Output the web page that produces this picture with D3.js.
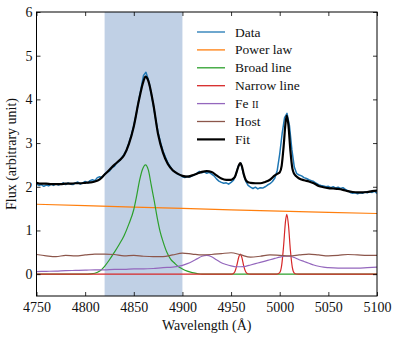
<!DOCTYPE html>
<head>
<meta charset="utf-8">
<script src="https://d3js.org/d3.v7.min.js"></script>
<style>
body { margin:0; background:#fff; }
text { font-family: "Liberation Serif", "Times New Roman", serif; fill:#111; }
</style>
</head>
<body>
<script>

// observed spectrum, regular 2.5 A grid starting at 4750
var dataStart = 4750, dataStep = 2.5;
var dataFlux = [2.06,2.03,2.05,2.01,2.04,2.02,2.06,2.03,2.07,2.04,
  2.06,2.09,2.05,2.09,2.06,2.05,2.09,2.11,2.06,2.09,
  2.12,2.09,2.14,2.16,2.14,2.21,2.23,2.21,2.29,2.33,
  2.36,2.44,2.47,2.55,2.58,2.66,2.74,2.84,3.00,3.18,
  3.40,3.66,3.97,4.25,4.55,4.62,4.45,4.18,3.88,3.55,
  3.24,3.02,2.82,2.68,2.55,2.46,2.37,2.34,2.29,2.27,
  2.23,2.21,2.24,2.22,2.25,2.27,2.31,2.35,2.32,2.34,
  2.31,2.33,2.29,2.25,2.18,2.13,2.10,2.08,2.09,2.06,
  2.10,2.15,2.28,2.48,2.54,2.32,2.13,2.03,1.99,1.96,
  1.99,1.95,1.98,1.97,2.00,2.04,2.07,2.12,2.20,2.38,
  2.75,3.22,3.58,3.68,3.40,2.85,2.45,2.30,2.27,2.25,
  2.21,2.19,2.16,2.14,2.12,2.08,2.05,2.03,2.02,2.00,
  2.01,1.98,2.00,1.97,1.99,1.96,1.98,1.94,1.91,1.87,
  1.85,1.86,1.84,1.86,1.85,1.88,1.86,1.89,1.87,1.90,1.85];

var powerWave = [4750,4800,4850,4900,4950,5000,5050,5100];
var powerFlux = [1.60,1.567,1.535,1.504,1.473,1.444,1.415,1.388];

var broadWave = [4750,4800,4805,4810,4815,4820,4825,4830,4835,4840,4845,4850,4853,4856,4859,4862,
  4865,4868,4871,4874,4877,4880,4884,4888,4892,4896,4900,4905,4910,4915,4920,5100];
var broadFlux = [0,0,0.005,0.02,0.07,0.18,0.33,0.50,0.68,0.88,1.15,1.48,1.80,2.15,2.40,2.50,
  2.38,2.03,1.68,1.30,0.98,0.75,0.50,0.34,0.25,0.17,0.12,0.07,0.035,0.015,0,0];

var narrowWave = [4750,4950,4952,4954,4956,4958,4959.5,4961,4963,4965,4967,4970,
  4997,5000,5002,5004,5006,5007.3,5009,5011,5013,5015,5017,5020,5100];
var narrowFlux = [0,0,0.011,0.062,0.21,0.40,0.46,0.39,0.19,0.053,0.009,0,
  0,0.035,0.20,0.65,1.22,1.37,1.12,0.54,0.15,0.023,0.003,0,0];

var feWave = [4750,4760,4770,4780,4790,4800,4810,4820,4830,4840,4850,4860,4870,4880,4890,4900,
  4905,4910,4915,4920,4925,4930,4935,4940,4945,4950,4955,4960,4965,4970,4975,4980,4985,4990,
  4995,5000,5005,5010,5015,5020,5025,5030,5035,5040,5045,5050,5060,5070,5080,5090,5100];
var feFlux = [0.06,0.065,0.07,0.08,0.085,0.09,0.10,0.10,0.11,0.11,0.12,0.12,0.13,0.15,0.16,0.20,
  0.24,0.29,0.35,0.41,0.43,0.40,0.33,0.26,0.22,0.19,0.17,0.17,0.18,0.21,0.24,0.27,0.30,0.33,
  0.36,0.39,0.41,0.41,0.38,0.33,0.29,0.25,0.21,0.18,0.16,0.15,0.14,0.14,0.14,0.15,0.16];

var hostWave = [4750,4760,4770,4780,4790,4800,4810,4820,4830,4840,4850,4860,4870,4880,4890,4900,
  4910,4920,4930,4940,4950,4960,4970,4980,4990,5000,5010,5020,5030,5040,5050,5060,5070,5080,5090,5100];
var hostFlux = [0.45,0.42,0.40,0.43,0.42,0.44,0.46,0.46,0.45,0.42,0.43,0.41,0.40,0.40,0.44,0.48,
  0.46,0.44,0.45,0.47,0.49,0.44,0.39,0.41,0.44,0.43,0.42,0.44,0.46,0.44,0.42,0.43,0.45,0.44,0.43,0.43];

var fitWave = [4750,4755,4760,4765,4770,4775,4780,4785,4790,4795,4800,4805,4810,4815,4820,4825,
  4830,4835,4840,4845,4850,4855,4860,4862,4865,4870,4875,4880,4885,4890,4895,4900,4905,4910,
  4915,4920,4925,4930,4935,4940,4945,4950,4952,4954,4956,4958,4959.5,4961,4963,4965,4967,4970,
  4975,4980,4985,4990,4995,4998,5000,5002,5004,5006,5007.3,5009,5011,5013,5015,5017,5020,5025,
  5030,5035,5040,5045,5050,5055,5060,5065,5070,5075,5080,5085,5090,5095,5100];
var fitFlux = [2.09,2.07,2.07,2.06,2.06,2.06,2.07,2.07,2.08,2.08,2.09,2.10,2.12,2.17,2.28,2.39,
  2.50,2.60,2.72,2.98,3.38,3.95,4.42,4.52,4.42,3.90,3.20,2.78,2.52,2.38,2.30,2.25,2.23,2.26,
  2.30,2.34,2.36,2.34,2.26,2.19,2.16,2.16,2.18,2.23,2.36,2.49,2.54,2.48,2.29,2.16,2.11,2.09,
  2.08,2.08,2.11,2.16,2.26,2.30,2.33,2.48,2.92,3.46,3.63,3.40,2.82,2.42,2.29,2.24,2.19,2.15,
  2.12,2.08,2.02,1.99,1.97,1.96,1.95,1.93,1.90,1.88,1.87,1.87,1.88,1.90,1.91];

var spanRange = [4820, 4900];
var xTicks = [4750,4800,4850,4900,4950,5000,5050,5100];
var yTicks = [0,1,2,3,4,5,6];
var legendNames = ["Data","Power law","Broad line","Narrow line","Fe II","Host","Fit"];
var legendColors = ["#1f77b4","#ff7f0e","#2ca02c","#d62728","#9467bd","#8c564b","#000000"];

var width = 399, height = 341;
var mLeft = 36.5, mRight = 377, mTop = 12, mBottom = 296;
var serif = "'Liberation Serif', 'Times New Roman', serif";

var svg = d3.select("body").append("svg")
    .attr("width", width)
    .attr("height", height);

var x = d3.scaleLinear().domain([4750, 5100]).range([mLeft, mRight]);
var y = d3.scaleLinear().domain([-0.5, 6]).range([mBottom, mTop]);

svg.append("clipPath").attr("id", "clip")
  .append("rect").attr("x", mLeft).attr("y", mTop)
  .attr("width", mRight - mLeft).attr("height", mBottom - mTop);

var plot = svg.append("g").attr("clip-path", "url(#clip)");

plot.append("rect")
    .attr("x", x(spanRange[0]))
    .attr("width", x(spanRange[1]) - x(spanRange[0]))
    .attr("y", mTop)
    .attr("height", mBottom - mTop)
    .style("fill", "#c0d0e5");

function pairs(w, f) { return w.map(function(d, i) { return [d, f[i]]; }); }

var lineLin = d3.line().x(function(d) { return x(d[0]); }).y(function(d) { return y(d[1]); });
var lineSmooth = d3.line().curve(d3.curveMonotoneX)
    .x(function(d) { return x(d[0]); }).y(function(d) { return y(d[1]); });

var dataPts = dataFlux.map(function(v, i) { return [dataStart + i * dataStep, v]; });

var series = [
  { pts: dataPts, color: legendColors[0], w: 1.5, gen: lineLin },
  { pts: pairs(powerWave, powerFlux), color: legendColors[1], w: 1.2, gen: lineLin },
  { pts: pairs(broadWave, broadFlux), color: legendColors[2], w: 1.2, gen: lineSmooth },
  { pts: pairs(narrowWave, narrowFlux), color: legendColors[3], w: 1.2, gen: lineSmooth },
  { pts: pairs(feWave, feFlux), color: legendColors[4], w: 1.2, gen: lineSmooth },
  { pts: pairs(hostWave, hostFlux), color: legendColors[5], w: 1.2, gen: lineSmooth },
  { pts: pairs(fitWave, fitFlux), color: legendColors[6], w: 2.2, gen: lineSmooth }
];

plot.selectAll("path.series")
  .data(series)
  .enter().append("path")
    .attr("class", "series")
    .attr("d", function(d) { return d.gen(d.pts); })
    .style("fill", "none")
    .style("stroke", function(d) { return d.color; })
    .style("stroke-width", function(d) { return d.w; })
    .style("stroke-linejoin", "round");

// axes, ticks pointing inward on all four sides
svg.append("g").attr("transform", "translate(0," + mBottom + ")")
    .call(d3.axisBottom(x).tickValues(xTicks).tickFormat(d3.format("d"))
      .tickSizeInner(-4).tickSizeOuter(0).tickPadding(6));
svg.append("g").attr("transform", "translate(0," + mTop + ")")
    .call(d3.axisTop(x).tickValues(xTicks).tickSizeInner(-4).tickSizeOuter(0).tickFormat(""));
svg.append("g").attr("transform", "translate(" + mLeft + ",0)")
    .call(d3.axisLeft(y).tickValues(yTicks).tickFormat(d3.format("d"))
      .tickSizeInner(-4).tickSizeOuter(0).tickPadding(4));
svg.append("g").attr("transform", "translate(" + mRight + ",0)")
    .call(d3.axisRight(y).tickValues(yTicks).tickSizeInner(-4).tickSizeOuter(0).tickFormat(""));

svg.selectAll(".domain").remove();
svg.selectAll("g").attr("font-family", null);
svg.selectAll(".tick line").style("stroke", "#000").style("stroke-width", 0.8);
svg.selectAll(".tick text")
    .style("font-family", serif)
    .style("font-size", "14px")
    .style("fill", "#111");

svg.append("rect")
    .attr("x", mLeft).attr("y", mTop)
    .attr("width", mRight - mLeft).attr("height", mBottom - mTop)
    .style("fill", "none").style("stroke", "#000").style("stroke-width", 1);

svg.append("text")
    .attr("x", (mLeft + mRight) / 2).attr("y", 330)
    .attr("text-anchor", "middle")
    .style("font-family", serif)
    .style("font-size", "14px")
    .text("Wavelength (Å)");

svg.append("text")
    .attr("transform", "translate(16," + ((mTop + mBottom) / 2) + ") rotate(-90)")
    .attr("text-anchor", "middle")
    .style("font-family", serif)
    .style("font-size", "14px")
    .text("Flux (arbitrary unit)");

// legend
var legend = svg.append("g").selectAll("g")
  .data(legendNames)
  .enter().append("g")
    .attr("transform", function(d, i) { return "translate(197," + (32 + i * 17.9) + ")"; });

legend.append("line")
    .attr("x1", 0).attr("x2", 28)
    .style("stroke", function(d, i) { return legendColors[i]; })
    .style("stroke-width", function(d, i) { return i == 6 ? 2.2 : 1.3; });

legend.append("text")
    .attr("x", 38).attr("y", 4.5)
    .style("font-family", serif)
    .style("font-size", "13.5px")
    .each(function(d) {
      var t = d3.select(this);
      if (d == "Fe II") {
        t.append("tspan").text("Fe ");
        t.append("tspan").style("font-size", "10px").text("II");
      } else {
        t.text(d);
      }
    });

</script>
</body>
